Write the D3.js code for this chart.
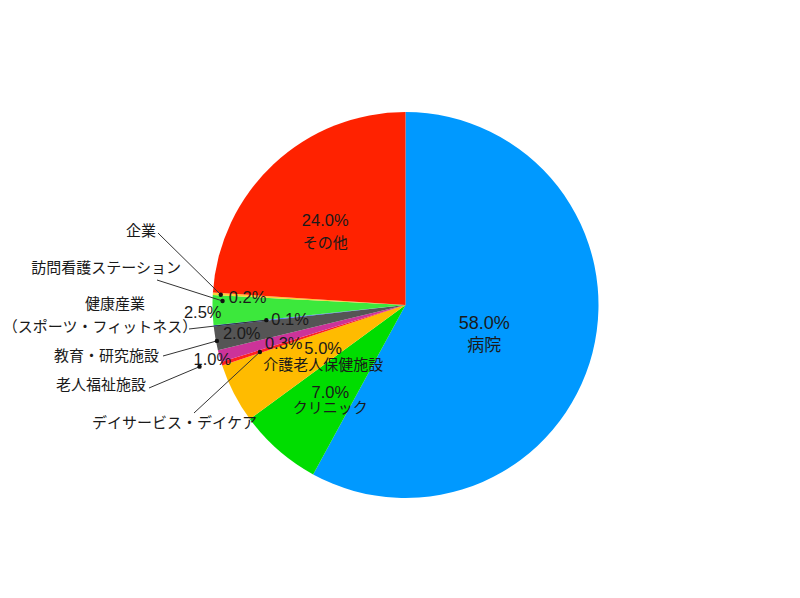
<!DOCTYPE html>
<html lang="ja">
<head>
<meta charset="utf-8">
<script src="https://cdn.jsdelivr.net/npm/d3@7"></script>
<style>
  html, body { margin: 0; padding: 0; background: #fff; }
  text { font-family: "Liberation Sans", "Noto Sans CJK JP", sans-serif; fill: #1a1a1a; }
  .pct { font-family: "Liberation Sans", sans-serif; }
</style>
</head>
<body>
<div id="chart"></div>
<script>
// Share of employment destinations (%), clockwise from 12 o'clock
const categories = [
  '病院',
  'クリニック',
  '介護老人保健施設',
  'デイサービス・デイケア',
  '老人福祉施設',
  '教育・研究施設',
  '健康産業\n（スポーツ・フィットネス）',
  '訪問看護ステーション',
  '企業',
  'その他'
];
const shares = [58.0, 7.0, 5.0, 0.3, 1.0, 2.0, 0.1, 2.5, 0.2, 24.0];
const sliceColors = [
  '#0099ff', '#00dd00', '#ffbb00', '#ff2020', '#cc3399',
  '#555555', '#3366ff', '#3ce83c', '#ffcc33', '#ff2200'
];

const width = 800;
const height = 598;
const cx = 405.5;
const cy = 305;
const radius = 193;

// Where each label sits. r / t place the anchor inside the slice
// (t = 0 at slice start, 1 at slice end). Inner labels are stacked
// two-line blocks; outer ones get a dot, a leader line and a name.
const labelLayout = [
  { inner: true, r: 84, t: 0.53, size: 17, pSize: 18, gap: 23 },
  { inner: true, r: 121, t: 0.39, size: 15, pSize: 16.5, gap: 16 },
  { inner: true, r: 97, t: 0.24, size: 15, pSize: 16.5, gap: 17 },
  { r: 153, t: 0.36, pdx: 5, pdy: -9, pAnchor: 'start',
    nx: 257, ny: 422, nAnchor: 'end', lx: 194, ly: 413 },
  { r: 215, t: 0.14, pdx: -6, pdy: -8, pAnchor: 'start',
    nx: 146, ny: 384, nAnchor: 'end', lx: 149, ly: 388 },
  { r: 192, t: 0.39, pdx: 6, pdy: -8, pAnchor: 'start',
    nx: 159, ny: 355, nAnchor: 'end', lx: 163, ly: 356 },
  { r: 140, t: 0.5, pdx: 5, pdy: -1, pAnchor: 'start',
    nx: 186, ny: 303, nAnchor: 'end', lx: 189, ly: 329, lineGap: 23 },
  { r: 183, t: 0.81, pdx: -1, pdy: 11, pAnchor: 'end',
    nx: 181, ny: 267, nAnchor: 'end', lx: 157, ly: 280 },
  { r: 185, t: 0.3, pdx: 8, pdy: 2, pAnchor: 'start',
    nx: 156, ny: 230, nAnchor: 'end', lx: 158, ly: 233 },
  { inner: true, r: 109, t: 0.45, size: 15, pSize: 16.5, gap: 22 }
];

const rows = categories.map((name, i) => ({
  name, value: shares[i], color: sliceColors[i], layout: labelLayout[i]
}));

const svg = d3.select('#chart')
  .append('svg')
  .attr('width', width)
  .attr('height', height);

const g = svg.append('g')
  .attr('transform', `translate(${cx},${cy})`);

const pie = d3.pie()
  .sort(null)
  .value(d => d.value);

const arcPath = d3.arc()
  .innerRadius(0)
  .outerRadius(radius);

const arcs = pie(rows);

g.selectAll('path.slice')
  .data(arcs)
  .enter()
  .append('path')
  .attr('class', 'slice')
  .attr('d', arcPath)
  .attr('fill', d => d.data.color);

// point at radius r and fraction t through the slice
function anchorOf(d) {
  const L = d.data.layout;
  const a = d.startAngle + (d.endAngle - d.startAngle) * L.t;
  return [L.r * Math.sin(a), -L.r * Math.cos(a)];
}

const fmt = v => v.toFixed(1) + '%';

// inner labels: percentage over the name
arcs.filter(d => d.data.layout.inner).forEach(d => {
  const L = d.data.layout;
  const [x, y] = anchorOf(d);
  const block = g.append('g')
    .attr('transform', `translate(${x},${y})`)
    .attr('text-anchor', 'middle');
  block.append('text')
    .attr('class', 'pct')
    .attr('y', -L.gap / 2)
    .attr('dominant-baseline', 'central')
    .style('font-size', L.pSize + 'px')
    .text(fmt(d.data.value));
  block.append('text')
    .attr('y', L.gap / 2)
    .attr('dominant-baseline', 'central')
    .style('font-size', L.size + 'px')
    .text(d.data.name);
});

// outer labels with leader lines
const outer = svg.append('g').style('font-size', '15px');
arcs.filter(d => !d.data.layout.inner).forEach(d => {
  const L = d.data.layout;
  const [x, y] = anchorOf(d);
  const px = cx + x;
  const py = cy + y;

  outer.append('line')
    .attr('x1', L.lx).attr('y1', L.ly)
    .attr('x2', px).attr('y2', py)
    .attr('stroke', '#333')
    .attr('stroke-width', 1);

  outer.append('circle')
    .attr('cx', px).attr('cy', py)
    .attr('r', 2.2)
    .attr('fill', '#111');

  outer.append('text')
    .attr('class', 'pct')
    .attr('x', px + L.pdx)
    .attr('y', py + L.pdy)
    .attr('text-anchor', L.pAnchor)
    .attr('dominant-baseline', 'central')
    .style('font-size', '16.5px')
    .text(fmt(d.data.value));

  const lines = d.data.name.split('\n');
  const name = outer.append('text')
    .attr('text-anchor', lines.length > 1 ? 'middle' : L.nAnchor)
    .attr('dominant-baseline', 'central');
  if (lines.length > 1) {
    // two-line name: centred block ending near the leader line
    lines.forEach((s, k) => {
      name.append('tspan')
        .attr('x', k === 0 ? L.nx - 71 : L.nx - 86)
        .attr('y', L.ny + k * L.lineGap)
        .text(s);
    });
  } else {
    name.attr('x', L.nx).attr('y', L.ny).text(lines[0]);
  }
});
</script>
</body>
</html>
